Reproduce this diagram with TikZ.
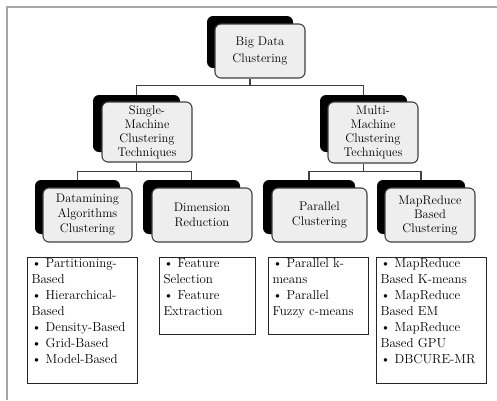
\documentclass[tikz,border=0pt]{standalone}
\begin{document}
\begin{tikzpicture}[x=1pt,y=-1pt,
  sh/.style={fill=black,rounded corners=6pt,inner sep=0pt},
  fr/.style={draw=black!75,line width=1.1pt,fill=gray!13,rounded corners=6pt,inner sep=0pt,align=center,text=black,font=\fontsize{12.5}{15}\selectfont},
  conn/.style={draw=black!75,line width=1.2pt},
  list/.style={draw=black!85,line width=1.1pt,anchor=north west,inner xsep=4pt,inner ysep=0pt,text=black,font=\fontsize{13}{16}\selectfont},
  frame/.style={draw=gray!70,line width=1.6pt}]
\useasboundingbox (0,0) rectangle (497,400);
\draw[frame] (7,400) -- (7,7) -- (497,7);

% level 1
\node[sh,minimum width=86pt,minimum height=52pt] (rootS) at (250,42) {};
\node[fr,minimum width=90pt,minimum height=54pt,font=\fontsize{12.5}{17}\selectfont] (root) at (260,51) {Big Data\\Clustering};
% level 2
\node[sh,minimum width=87pt,minimum height=57pt] (singleS) at (136.5,123.5) {};
\node[fr,minimum width=90pt,minimum height=60pt,font=\fontsize{12.5}{14}\selectfont] (single) at (147,132) {Single-\\Machine\\Clustering\\Techniques};
\node[sh,minimum width=87pt,minimum height=57pt] (multiS) at (363.5,123.5) {};
\node[fr,minimum width=90pt,minimum height=61pt,font=\fontsize{12.5}{14}\selectfont] (multi) at (373,132.5) {Multi-\\Machine\\Clustering\\Techniques};
% level 3
\node[sh,minimum width=85pt,minimum height=54pt] (dmS) at (77.5,207) {};
\node[fr,minimum width=89pt,minimum height=54pt] (dm) at (87.5,215) {Datamining\\Algorithms\\Clustering};
\node[sh,minimum width=97pt,minimum height=54pt] (drS) at (191.5,207) {};
\node[fr,minimum width=100pt,minimum height=54pt] (dr) at (202,215) {Dimension\\Reduction};
\node[sh,minimum width=92pt,minimum height=54pt] (parS) at (309,207) {};
\node[fr,minimum width=95pt,minimum height=54pt] (par) at (319.5,215) {Parallel\\Clustering};
\node[sh,minimum width=88pt,minimum height=54pt] (mrS) at (421,207) {};
\node[fr,minimum width=90pt,minimum height=54pt,font=\fontsize{12.5}{14}\selectfont] (mr) at (430,215) {MapReduce\\Based\\Clustering};

% connectors
\draw[conn] (root.south -| rootS.center) -- ++(0,7) -| (singleS.north);
\draw[conn] (root.south -| rootS.center) -- ++(0,7) -| (multiS.north);
\draw[conn] (single.south -| singleS.center) -- ++(0,9) -| (dmS.north);
\draw[conn] (single.south -| singleS.center) -- ++(0,9) -| (drS.north);
\draw[conn] (multi.south -| multiS.center) -- ++(0,8) -| (parS.north);
\draw[conn] (multi.south -| multiS.center) -- ++(0,8) -| (mrS.north);

% lists
\node[list] (l1) at (27,257) {\parbox[c][126pt][t]{102pt}{\vspace*{1pt}\raggedright
\textbullet\ Partitioning-\\Based\\\textbullet\ Hierarchical-\\Based\\\textbullet\ Density-Based\\\textbullet\ Grid-Based\\\textbullet\ Model-Based}};
\node[list] (l2) at (159,257) {\parbox[c][77pt][t]{88pt}{\vspace*{1pt}\raggedright
\textbullet\ Feature\\Selection\\\textbullet\ Feature\\Extraction}};
\node[list] (l3) at (268,257) {\parbox[c][77pt][t]{92pt}{\vspace*{1pt}\raggedright
\textbullet\ Parallel k-\\means\\\textbullet\ Parallel\\Fuzzy c-means}};
\node[list] (l4) at (376,257) {\parbox[c][126pt][t]{102pt}{\vspace*{1pt}\raggedright
\textbullet\ MapReduce\\Based K-means\\\textbullet\ MapReduce\\Based EM\\\textbullet\ MapReduce\\Based GPU\\\textbullet\ DBCURE-MR}};
\end{tikzpicture}
\end{document}
